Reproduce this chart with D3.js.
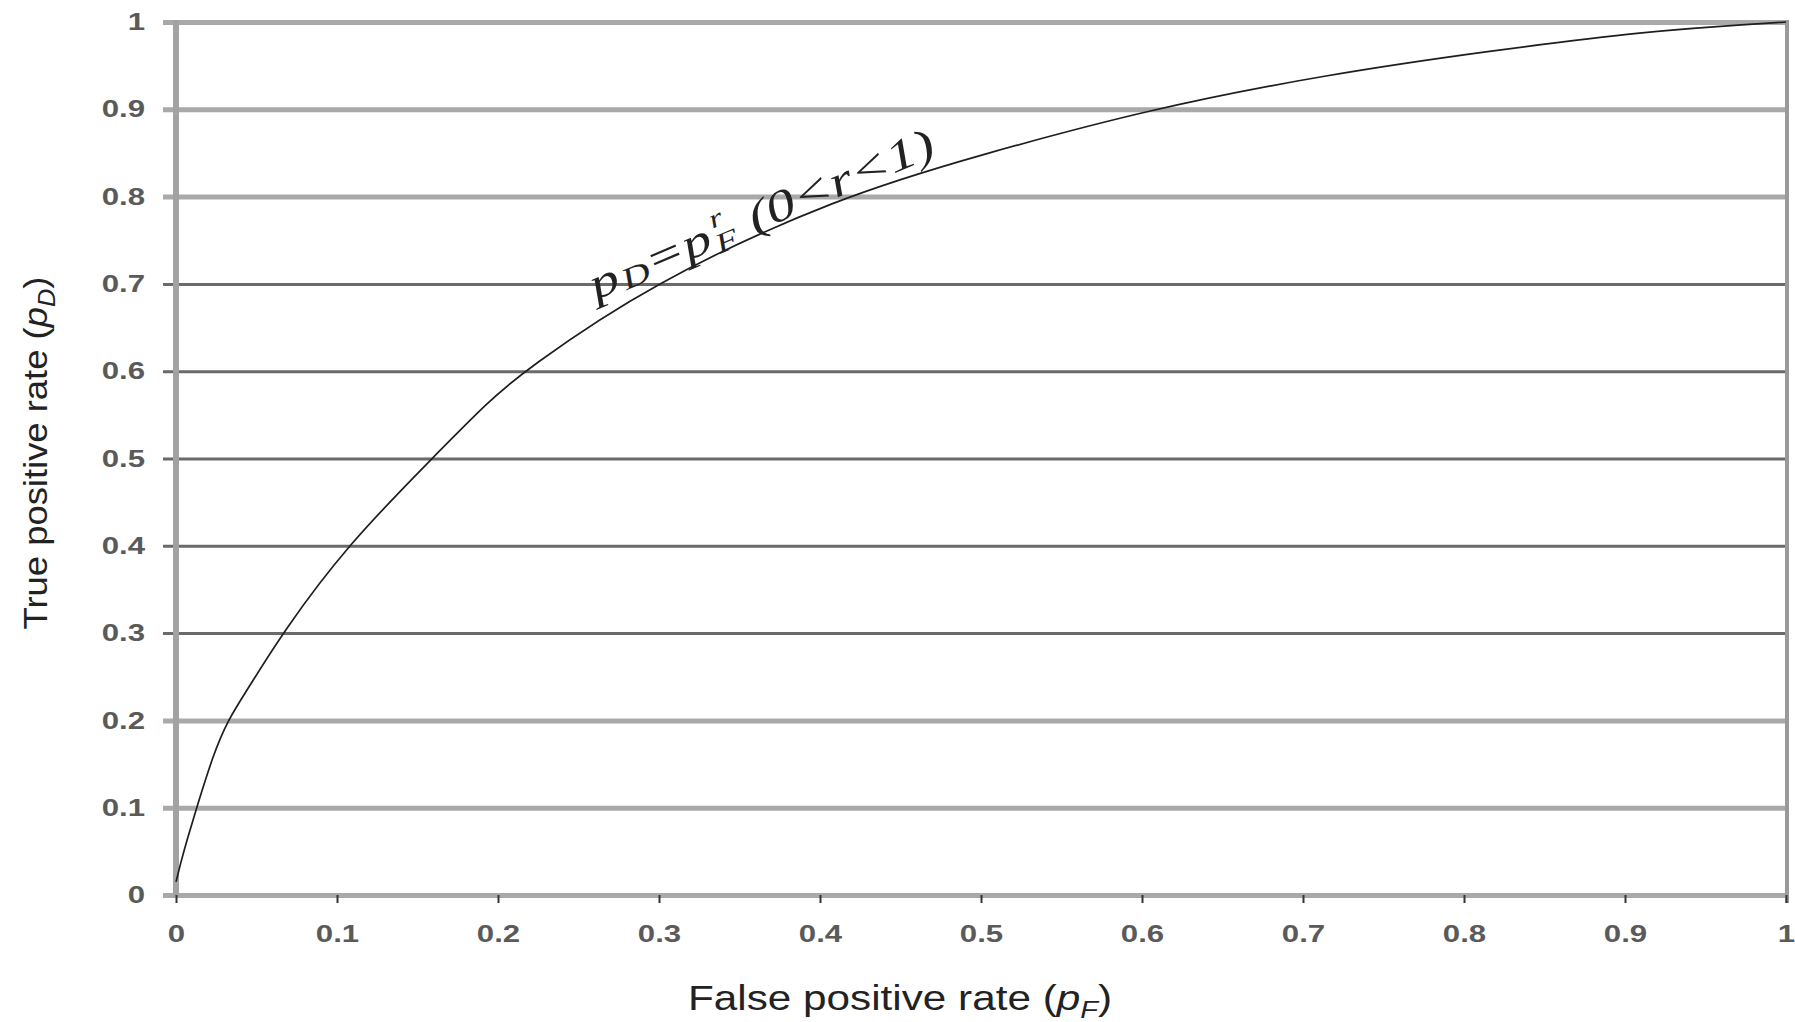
<!DOCTYPE html>
<html>
<head>
<meta charset="utf-8">
<script src="https://cdn.jsdelivr.net/npm/d3@7"></script>
<style>
body { margin: 0; background: #fff; }
</style>
</head>
<body>
<script>
// ROC curve: false positive rate vs true positive rate
var falsePos = [0, 0.001, 0.0025, 0.0068, 0.013, 0.023, 0.032, 0.045, 0.066, 0.106, 0.159, 0.195, 0.216, 0.294, 0.412, 0.5, 0.604, 0.715, 0.816, 0.916, 0.983, 1.0];
var truePos  = [0.015, 0.022, 0.034, 0.063, 0.101, 0.16, 0.2, 0.237, 0.3, 0.4, 0.5, 0.567, 0.6, 0.7, 0.8, 0.848, 0.9, 0.94, 0.967, 0.99, 0.998, 1.0];

var xTicks = [0, 0.1, 0.2, 0.3, 0.4, 0.5, 0.6, 0.7, 0.8, 0.9, 1];
var yTicks = [0, 0.1, 0.2, 0.3, 0.4, 0.5, 0.6, 0.7, 0.8, 0.9, 1];

var xTitle = "False positive rate (";
var xTitleSub = "F";
var yTitle = "True positive rate (";
var yTitleSub = "D";

var w = 1795, h = 1022;
var plotLeft = 176, plotTop = 22, plotRight = 1786, plotBottom = 895;
var stretch = 1.3;

var svg = d3.select("body").append("svg")
    .attr("width", w)
    .attr("height", h)
    .style("font-family", "'Liberation Sans', Arial, sans-serif");

var x = d3.scaleLinear().domain([0, 1]).range([plotLeft, plotRight]);
var y = d3.scaleLinear().domain([0, 1]).range([plotBottom, plotTop]);

var fmt = function(d) { return String(d); };

// horizontal gridlines + y labels
var yAxis = d3.axisLeft(y).tickValues(yTicks).tickSizeInner(-(plotRight - plotLeft)).tickSizeOuter(0).tickFormat(fmt);
var gy = svg.append("g")
    .attr("transform", "translate(" + plotLeft + ",0)")
    .call(yAxis);
gy.select(".domain").remove();
gy.selectAll(".tick line")
    .attr("x1", -13)
    .attr("stroke", function(d) { return (d > 0.25 && d < 0.75) ? "#6a6a6a" : "#a9a9a9"; })
    .attr("stroke-width", function(d) { return (d > 0.25 && d < 0.75) ? 3 : 5; });
gy.selectAll(".tick text")
    .attr("x", -31 / stretch)
    .attr("transform", "scale(" + stretch + ",1)")
    .attr("fill", "#5a5a5a")
    .style("font-weight", "bold")
    .style("font-size", "24px");

// left axis and right frame
svg.append("line")
    .attr("x1", x(0)).attr("x2", x(0))
    .attr("y1", y(1) - 2).attr("y2", y(0) + 2)
    .attr("stroke", "#a2a2a2").attr("stroke-width", 6);
svg.append("line")
    .attr("x1", x(1) + 1).attr("x2", x(1) + 1)
    .attr("y1", y(1) - 2).attr("y2", y(0) + 8)
    .attr("stroke", "#9a9a9a").attr("stroke-width", 4);

// x ticks and labels
var xAxis = d3.axisBottom(x).tickValues(xTicks).tickSizeInner(8).tickSizeOuter(0).tickFormat(fmt);
var gx = svg.append("g")
    .attr("transform", "translate(0," + plotBottom + ")")
    .call(xAxis);
gx.select(".domain").remove();
gx.selectAll(".tick line")
    .attr("stroke", "#333")
    .attr("stroke-width", 2);
gx.selectAll(".tick text")
    .attr("y", 47)
    .attr("dy", null)
    .attr("transform", "scale(" + stretch + ",1)")
    .attr("fill", "#5a5a5a")
    .style("font-weight", "bold")
    .style("font-size", "24px");

// the curve
var points = falsePos.map(function(d, i) { return [d, truePos[i]]; });
var line = d3.line()
    .x(function(d) { return x(d[0]); })
    .y(function(d) { return y(d[1]); })
    .curve(d3.curveBasis);
svg.append("path")
    .datum(points)
    .attr("d", line)
    .attr("fill", "none")
    .attr("stroke", "#1e1e1e")
    .attr("stroke-width", 1.7);

// formula label along the curve
var lab = svg.append("text")
    .attr("transform", "translate(596,300) rotate(-23) scale(1.33,1)")
    .attr("fill", "#222")
    .style("font-family", "'Liberation Serif', 'Times New Roman', serif")
    .style("font-style", "italic")
    .style("font-size", "44px");
lab.append("tspan").text("p");
lab.append("tspan").attr("dx", 2).attr("dy", 3).style("font-size", "30px").text("D");
lab.append("tspan").attr("dy", -3).text("=p");
lab.append("tspan").attr("dx", 2).attr("dy", 6).style("font-size", "28px").text("F");
lab.append("tspan").attr("dx", -15).attr("dy", -26).style("font-size", "26px").text("r");
lab.append("tspan").attr("dx", 18).attr("dy", 20).text("(0<r<1)");

// axis titles
var xt = svg.append("text")
    .attr("x", 900)
    .attr("y", 1010)
    .attr("text-anchor", "middle")
    .attr("fill", "#222")
    .style("font-size", "35px")
    .attr("textLength", 424)
    .attr("lengthAdjust", "spacingAndGlyphs");
xt.append("tspan").text(xTitle);
xt.append("tspan").style("font-style", "italic").text("p");
xt.append("tspan").attr("dy", 8).style("font-size", "24px").style("font-style", "italic").text(xTitleSub);
xt.append("tspan").attr("dy", -8).text(")");

var yt = svg.append("text")
    .attr("transform", "translate(47,453) rotate(-90)")
    .attr("text-anchor", "middle")
    .attr("fill", "#222")
    .style("font-size", "33px")
    .attr("textLength", 353)
    .attr("lengthAdjust", "spacingAndGlyphs");
yt.append("tspan").text(yTitle);
yt.append("tspan").style("font-style", "italic").text("p");
yt.append("tspan").attr("dy", 8).style("font-size", "23px").style("font-style", "italic").text(yTitleSub);
yt.append("tspan").attr("dy", -8).text(")");
</script>
</body>
</html>
